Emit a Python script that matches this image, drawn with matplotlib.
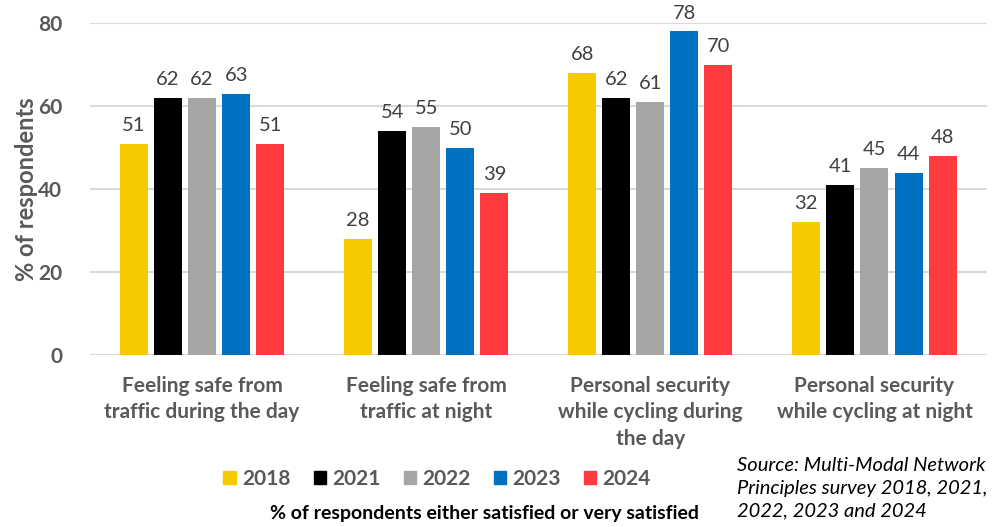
import numpy as np
import matplotlib.pyplot as plt
from matplotlib.patches import Patch

categories = ['Feeling safe from\ntraffic during the day',
              'Feeling safe from\ntraffic at night',
              'Personal security\nwhile cycling during\nthe day',
              'Personal security\nwhile cycling at night']
years = ['2018', '2021', '2022', '2023', '2024']
v2018 = [51, 28, 68, 32]
v2021 = [62, 54, 62, 41]
v2022 = [62, 55, 61, 45]
v2023 = [63, 50, 78, 44]
v2024 = [51, 39, 70, 48]
colors = ['#F5CB00', '#000000', '#A6A6A6', '#0070C0', '#FF3B3F']

plt.rcParams['font.family'] = ['Lato', 'DejaVu Sans']
txt = '#595959'

fig = plt.figure(figsize=(10.05, 5.27), dpi=100)
ax = fig.add_axes([0.0896, 0.326, 0.892, 0.630])

x = np.arange(len(categories))
step = 0.152
width = 0.125
series = [v2018, v2021, v2022, v2023, v2024]
for i, (vals, c) in enumerate(zip(series, colors)):
    pos = x + (i - 2) * step
    ax.bar(pos, vals, width=width, color=c, zorder=3)
    for p, v in zip(pos, vals):
        ax.text(p, v + 2.4, str(v), ha='center', va='bottom', fontsize=14.5,
                color='#404040', clip_on=False)

ax.set_xlim(-0.5, len(categories) - 0.5)
ax.set_ylim(0, 80)
ax.set_yticks([0, 20, 40, 60, 80])
ax.yaxis.grid(True, color='#D9D9D9', linewidth=1.5, zorder=0)
for s in ax.spines.values():
    s.set_visible(False)
ax.tick_params(length=0)
ax.tick_params(axis='y', labelsize=15, labelcolor=txt, pad=20)
ax.set_yticklabels(['0', '20', '40', '60', '80'], fontweight='bold')
ax.set_xticks(x)
ax.set_xticklabels(categories, fontsize=15, fontweight='bold', color=txt,
                   linespacing=1.4)
ax.tick_params(axis='x', pad=15)
ax.set_ylabel('% of respondents', fontsize=17, fontweight='bold', color=txt,
              labelpad=0)

handles = [Patch(color=c, label=y) for c, y in zip(colors, years)]
leg = fig.legend(handles=handles, loc='center', bbox_to_anchor=(0.435, 0.092),
                 ncol=5, frameon=False, handlelength=0.6, handleheight=0.6,
                 handletextpad=0.3, columnspacing=1.1,
                 prop={'size': 15, 'weight': 'bold'})
for t in leg.get_texts():
    t.set_color(txt)

fig.text(0.482, 0.025, '% of respondents either satisfied or very satisfied',
         ha='center', va='center', fontsize=14, fontweight='bold', color='black')
fig.text(0.733, 0.015,
         'Source: Multi-Modal Network\nPrinciples survey 2018, 2021,\n2022, 2023 and 2024',
         ha='left', va='bottom', fontsize=14.5, style='italic', color='black',
         linespacing=1.38)

fig.savefig('out.png', dpi=100)
